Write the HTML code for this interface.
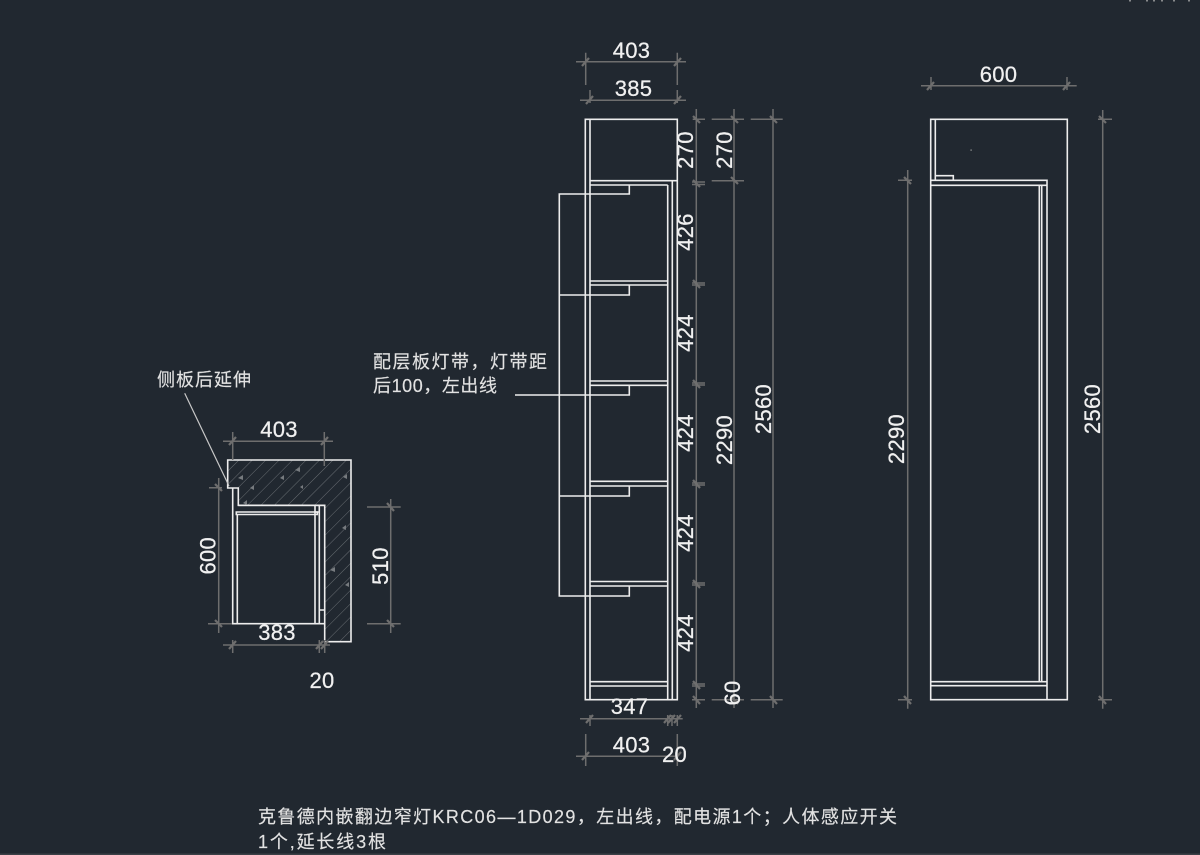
<!DOCTYPE html>
<html lang="zh">
<head>
<meta charset="utf-8">
<title>Cabinet drawing</title>
<style>
html,body{margin:0;padding:0;background:#212830;width:1200px;height:855px;overflow:hidden}
svg{display:block}
.w{stroke:#ededed;stroke-width:1.6;fill:none}
.d{stroke:#6e6e6e;stroke-width:1.5;fill:none}
.t{stroke:#6e6e6e;stroke-width:2.2;fill:none}
.n{font-family:"Liberation Sans",sans-serif;font-size:22px;fill:#f0f0f0;stroke:#f0f0f0;stroke-width:.25;text-anchor:middle;letter-spacing:.3px}
.c{font-family:"Liberation Sans","Noto Sans CJK SC",sans-serif;font-size:18px;fill:#e2e2e2;stroke:#e2e2e2;stroke-width:.15}
</style>
</head>
<body>
<svg width="1200" height="855" viewBox="0 0 1200 855" xmlns="http://www.w3.org/2000/svg">
<defs>
<pattern id="h" width="9.5" height="9.5" patternUnits="userSpaceOnUse" patternTransform="rotate(45)">
<line x1="0" y1="0" x2="0" y2="9.5" stroke="#686d72" stroke-width="1"/>
</pattern>
</defs>
<rect width="1200" height="855" fill="#212830"/>
<rect y="853.5" width="1200" height="1.5" fill="#3a4046"/>

<!-- specks top right -->
<path d="M1130 0v1.5M1147 0v1.5M1154 0v1.5M1162 0v1.5M1174 0v1.5M1189 0v1.5" stroke="#aaa" stroke-width="1.5"/>

<!-- PLAN VIEW -->
<path d="M227.7 460H351V641.7H324.7V505.3H238.3V488H227.7Z" fill="url(#h)"/>
<path class="w" d="M227.7 460H351V641.7H324.7V505.3H238.3V488H227.7Z"/>
<path class="w" d="M232.7 488V623.7H324.7M238.3 505.3H324.7"/>
<path class="w" d="M236.3 512H317.3V514.5H236.3Z"/>
<path class="w" d="M237.3 514V623.7M315 505.3V623.7M319.3 505.3V623.7M319.3 610H324.7M315 512H319.3"/>
<!-- hatch marks -->
<path d="M238 478l5 -3v5zM250 488l4 -3v5zM295 470l5 -3v5zM280 478l4 -3v5zM343 477l4 -3v5zM342 528l4 -3v5zM330 570l5 -3v5zM345 585l4 -3v5zM300 487l3 -2v4zM243 503l4 -3v5z" fill="#777b7f"/>
<!-- plan dims -->
<path class="d" d="M223 441.3H333M232.7 432V460M324.3 432V466"/>
<path class="t" d="M229 445L236 437M321 445L328 437"/>
<path class="d" d="M218.7 478V633M209 487.7H222M208 623.7H232"/>
<path class="t" d="M215 484L222 491M215 620L222 627"/>
<path class="d" d="M390.7 499V633M367 507H400.7M367 623.7H400.7"/>
<path class="t" d="M387 503L394 511M387 620L394 627"/>
<path class="d" d="M223 645H330M232.7 640V653M319.3 640V653M324.7 640V653"/>
<path class="t" d="M229 649L236 641M316 649L323 641M321 649L328 641"/>
<!-- leader -->
<path d="M184.7 393.3L229 486" stroke="#c8c8c8" stroke-width="1.2" fill="none"/>

<text class="c" x="157" y="386" textLength="94">侧板后延伸</text>
<text class="n" x="279" y="437">403</text>
<text class="n" transform="rotate(-90 215.5 555.7)" x="215.5" y="555.7">600</text>
<text class="n" transform="rotate(-90 388 566)" x="388" y="566">510</text>
<text class="n" x="277" y="640">383</text>
<text class="n" x="322" y="688">20</text>

<!-- ELEVATION -->
<path class="w" d="M585.3 119.3H677.3V699.7H585.3Z"/>
<path class="w" d="M590 119.3V699.7M590 180.7H677.3M672.3 180.7V699.7M667.7 185V699.7"/>
<path class="w" d="M590 185H667.7M590 281H667.7M590 285H667.7M590 381H667.7M590 385.3H667.7M590 481.3H667.7M590 486H667.7M590 581.5H667.7M590 586H667.7M590 681.7H667.7M590 686H667.7"/>
<path class="w" d="M629.3 185V194H559.3V596H629.3V586M629.3 285V295H559.3M629.3 385.3V395H515M629.3 486V496H559.3"/>

<!-- elevation dims -->
<path class="d" d="M576 61.7H686M585.7 52.7V85M677.3 52.7V85"/>
<path class="t" d="M582 66L589 58M674 66L681 58"/>
<path class="d" d="M580 100.3H686M590 90V103M677.3 90V103"/>
<path class="t" d="M586 104L593 96M674 104L681 96"/>
<path class="d" d="M696.3 109V708M692.7 119.3H705M692 182H705M692 184.5H705M692 283H705M692 285H705M692 383H705M692 385H705M692 483H705M692 485H705M692 583H705M692 585H705M692 684H705M692 686H705M692 699.7H705"/>
<path class="t" d="M693 116L700 123M693 180L700 187M693 280L700 288M693 380L700 388M693 480L700 488M693 580L700 588M693 681L700 689M693 696L700 704"/>
<path class="d" d="M734 109V708M711.7 119.3H744M711.7 180.7H744M711.7 699.7H744"/>
<path class="t" d="M731 116L738 123M731 177L738 184M731 696L738 704"/>
<path class="d" d="M773 109V708M750.7 119.3H782.7M750.7 699.7H782.7"/>
<path class="t" d="M770 116L777 123M770 696L777 704"/>
<path class="d" d="M580 718.7H682.7M590 715V726M667.7 715V726M672 715V726M677.3 715V726"/>
<path class="t" d="M586 723L593 715M664 723L671 715M668 723L675 715M674 723L681 715"/>
<path class="d" d="M576 756.3H678M585.7 734V766M677.3 734V766"/>
<path class="t" d="M582 760L589 752M674 760L681 752"/>

<text class="n" x="631.5" y="58">403</text>
<text class="n" x="633.5" y="96">385</text>
<text class="n" transform="rotate(-90 693 150)" x="693" y="150">270</text>
<text class="n" transform="rotate(-90 732 150)" x="732" y="150">270</text>
<text class="n" transform="rotate(-90 693 232)" x="693" y="232">426</text>
<text class="n" transform="rotate(-90 693 333)" x="693" y="333">424</text>
<text class="n" transform="rotate(-90 693 433)" x="693" y="433">424</text>
<text class="n" transform="rotate(-90 693 533)" x="693" y="533">424</text>
<text class="n" transform="rotate(-90 693 633)" x="693" y="633">424</text>
<text class="n" transform="rotate(-90 732 440)" x="732" y="440">2290</text>
<text class="n" transform="rotate(-90 771 409)" x="771" y="409">2560</text>
<text class="n" transform="rotate(-90 740 693)" x="740" y="693">60</text>
<text class="n" x="629.5" y="714">347</text>
<text class="n" x="631.5" y="752.7">403</text>
<text class="n" x="674.5" y="762">20</text>

<text class="c" x="373" y="368" textLength="174">配层板灯带，灯带距</text>
<text class="c" x="373" y="392" textLength="124">后100，左出线</text>

<!-- RIGHT SIDE VIEW -->
<path class="w" d="M930.7 119.3H1067.3V699.7H930.7Z"/>
<path class="w" d="M935.3 119.3V180.3M930.7 180.3H1047V699.7M930.7 185.3H1047M1039.3 185.3V682M1041.7 185.3V682M935.3 175.7H953.3V180.3M930.7 681.7H1047M930.7 685.7H1047"/>
<rect x="970.5" y="149.5" width="1.2" height="1.2" fill="#aaa"/>

<path class="d" d="M921 85.7H1076.7M931 77V90M1067 77V90"/>
<path class="t" d="M927 90L934 82M1063 90L1070 82"/>
<path class="d" d="M907.7 170V708.7M898 180.3H912M898 699.7H912"/>
<path class="t" d="M904 177L911 184M904 696L911 704"/>
<path class="d" d="M1102.7 110V708.7M1098 119.3H1112M1098 699.7H1112"/>
<path class="t" d="M1099 116L1106 123M1099 696L1106 704"/>

<text class="n" x="998.5" y="82">600</text>
<text class="n" transform="rotate(-90 904 439)" x="904" y="439">2290</text>
<text class="n" transform="rotate(-90 1100 409)" x="1100" y="409">2560</text>

<!-- NOTE -->
<text class="c" x="258" y="823" textLength="639">克鲁德内嵌翻边窄灯KRC06—1D029，左出线，配电源1个；人体感应开关</text>
<text class="c" x="258" y="848" textLength="128">1个,延长线3根</text>
</svg>
</body>
</html>
